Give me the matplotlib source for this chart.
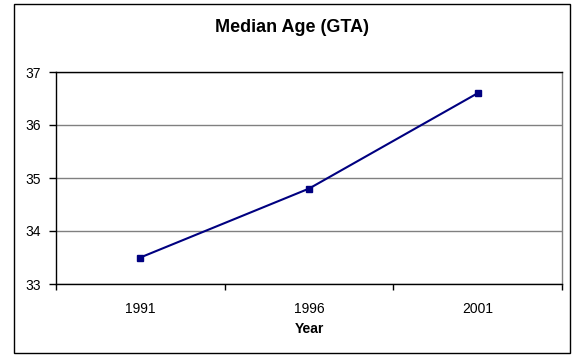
import matplotlib
matplotlib.use("Agg")
import matplotlib.pyplot as plt
from matplotlib.patches import Rectangle
import numpy as np

years = ["1991", "1996", "2001"]
median_age = [33.5, 34.8, 36.6]
y_ticks = [33, 34, 35, 36, 37]

plt.rcParams['font.family'] = ['Liberation Sans', 'DejaVu Sans']

W, H = 573, 355
fig = plt.figure(figsize=(W / 100, H / 100), dpi=100)
fig.patch.set_facecolor("white")

# outer chart border
fig.patches.append(Rectangle((14 / W, 1 - 353 / H), (569.5 - 14) / W, (353 - 4) / H,
                             transform=fig.transFigure, fill=False,
                             edgecolor="black", linewidth=1.0))

ax = fig.add_axes([56 / W, 1 - 284 / H, (562 - 56) / W, (284 - 72) / H])
x = np.arange(len(years))
ax.plot(x, median_age, color="#000080", linewidth=1.5, marker="s",
        markersize=4.5, markerfacecolor="#000080", markeredgecolor="#000080", zorder=3)

ax.set_xlim(-0.5, len(years) - 0.5)
ax.set_ylim(y_ticks[0], y_ticks[-1])
ax.set_yticks(y_ticks)
ax.set_yticklabels([str(v) for v in y_ticks], fontsize=10)
ax.set_xticks(x)
ax.set_xticklabels(years, fontsize=10)
ax.set_xticks(np.arange(-0.5, len(years), 1.0), minor=True)
ax.tick_params(axis="x", which="major", length=0, pad=13)
ax.tick_params(axis="x", which="minor", length=4, width=1, direction="out", color="black")
ax.tick_params(axis="y", length=5, width=1, direction="out", pad=6)

ax.grid(axis="y", color="#808080", linewidth=1.0)
ax.set_axisbelow(True)
for side in ["left", "bottom", "top"]:
    ax.spines[side].set_color("black")
    ax.spines[side].set_linewidth(1.0)
ax.spines["right"].set_color("#808080")
ax.spines["right"].set_linewidth(1.0)

fig.text(292 / W, 1 - 27 / H, "Median Age (GTA)", ha="center", va="center",
         fontsize=13, fontweight="bold")
fig.text(309 / W, 1 - 329 / H, "Year", ha="center", va="center",
         fontsize=10, fontweight="bold")

fig.savefig("out.png", dpi=100)
